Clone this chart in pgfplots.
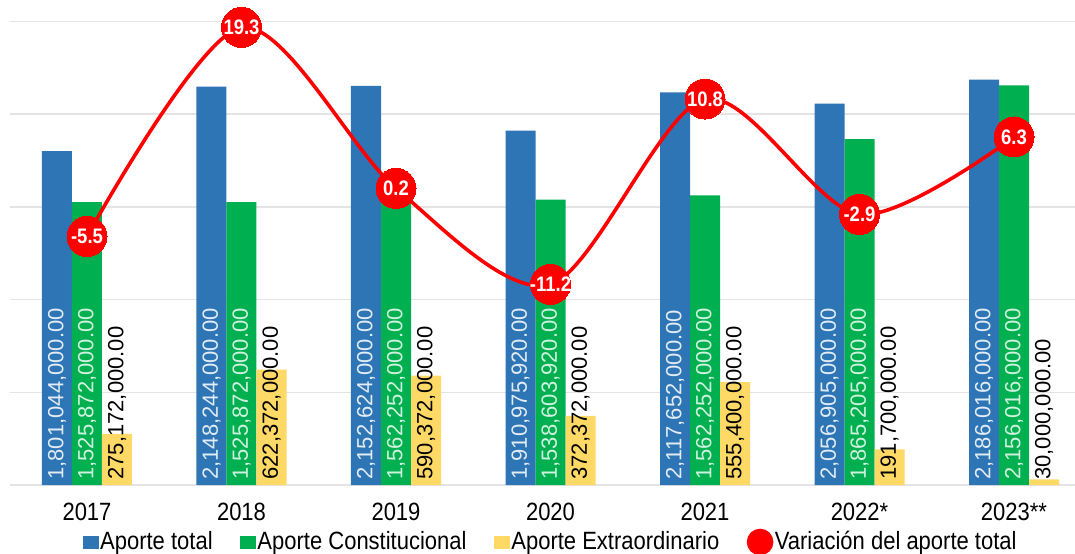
\documentclass[border=0pt]{standalone}
\usepackage{fontspec}
\setmainfont{Liberation Sans}[FakeStretch=0.88]
\newfontfamily\barfont{Liberation Sans}
\usepackage{pgfplots}
\usepackage{pgfplotstable}
\pgfplotsset{compat=1.18}

\definecolor{cBlue}{HTML}{2E75B6}
\definecolor{cGreen}{HTML}{00B050}
\definecolor{cYellow}{HTML}{FFD966}
\definecolor{cRed}{HTML}{FF0000}
\definecolor{cGrid}{HTML}{E4E4E4}

% values in millions, labels as printed
\pgfplotstableread{
x y lab
0 1801.044   1,801,044,000.00
1 2148.244   2,148,244,000.00
2 2152.624   2,152,624,000.00
3 1910.97592 1,910,975,920.00
4 2117.652   2,117,652,000.00
5 2056.905   2,056,905,000.00
6 2186.016   2,186,016,000.00
}\total
\pgfplotstableread{
x y lab
0 1525.872   1,525,872,000.00
1 1525.872   1,525,872,000.00
2 1562.252   1,562,252,000.00
3 1538.60392 1,538,603,920.00
4 1562.252   1,562,252,000.00
5 1865.205   1,865,205,000.00
6 2156.016   2,156,016,000.00
}\constit
\pgfplotstableread{
x y lab
0 275.172 275,172,000.00
1 622.372 622,372,000.00
2 590.372 590,372,000.00
3 372.372 372,372,000.00
4 555.4   555,400,000.00
5 191.7   191,700,000.00
6 30.0    30,000,000.00
}\extra
\pgfplotstableread{
x y lab
0 -5.5  -5.5
1 19.3  19.3
2 0.2   0.2
3 -11.2 -11.2
4 10.8  10.8
5 -2.9  -2.9
6 6.3   6.3
}\var

\pgfplotsset{
  base/.style={
    at={(4.875pt,34pt)}, anchor=south west,
    scale only axis, width=540.75pt, height=231.75pt,
    xmin=-0.5, xmax=6.5, clip=false,
  },
  barlab/.style={
    nodes near coords, point meta=explicit symbolic,
    visualization depends on={y \as \rawy},
    every node near coord/.append style={
      shift={(axis direction cs:0,-\rawy)}, rotate=90, anchor=west,
      xshift=2.5pt, inner sep=0pt, text=#1,
      font=\barfont\fontsize{11}{13}\selectfont},
  },
}

\begin{document}
\begin{tikzpicture}
\begin{axis}[base,
  ymin=0, ymax=2500, ytick={0,500,...,2500}, yticklabels={},
  ymajorgrids, grid style={cGrid, line width=0.75pt},
  axis line style={draw=none}, major tick length=0pt,
  xtick={0,...,6},
  xticklabels={2017,2018,2019,2020,2021,2022*,2023**},
  xticklabel style={font=\fontsize{12.5}{14}\selectfont, anchor=base, yshift=-17.5pt},
  ybar, bar width=15pt,
]
\addplot[fill=cBlue, draw=none, bar shift=-15pt, barlab=white!86!cBlue]
  table[x=x, y=y, meta=lab] {\total};
\addplot[fill=cGreen, draw=none, bar shift=0pt, barlab=white!82!cGreen]
  table[x=x, y=y, meta=lab] {\constit};
\addplot[fill=cYellow, draw=none, bar shift=15pt, barlab=black]
  table[x=x, y=y, meta=lab] {\extra};
\end{axis}

\begin{axis}[base, ymin=-35, ymax=20, hide axis,
  legend columns=4, legend cell align=left,
  legend style={at={(axis description cs:0.5,-0.123)}, anchor=center,
    draw=none, fill=none, inner sep=0pt,
    font=\fontsize{12.5}{14}\selectfont,
    nodes={inner sep=0.75pt},
    /tikz/every even column/.append style={column sep=13pt}},
]
\addlegendimage{legend image code/.code={\fill[cBlue] (0pt,-3pt) rectangle (7.5pt,3pt);}}
\addlegendentry{Aporte total}
\addlegendimage{legend image code/.code={\fill[cGreen] (0pt,-3pt) rectangle (7.5pt,3pt);}}
\addlegendentry{Aporte Constitucional}
\addlegendimage{legend image code/.code={\fill[cYellow] (0pt,-3pt) rectangle (7.5pt,3pt);}}
\addlegendentry{Aporte Extraordinario}
\addplot[cRed, line width=1.8pt, smooth, mark=*, mark size=10pt,
  mark options={fill=cRed, draw=cRed, line width=0pt},
  nodes near coords, point meta=explicit symbolic,
  nodes near coords style={anchor=center, text=white, inner sep=0pt,
    font=\bfseries\fontsize{10.5}{12}\selectfont},
  legend image code/.code={\fill[cRed] (5.75pt,0pt) circle (5.75pt);}]
  table[x=x, y=y, meta=lab] {\var};
\addlegendentry{Variación del aporte total}
\end{axis}
\pgfresetboundingbox
\useasboundingbox (0,0) rectangle (537.5pt,276.5pt);
\end{tikzpicture}
\end{document}
